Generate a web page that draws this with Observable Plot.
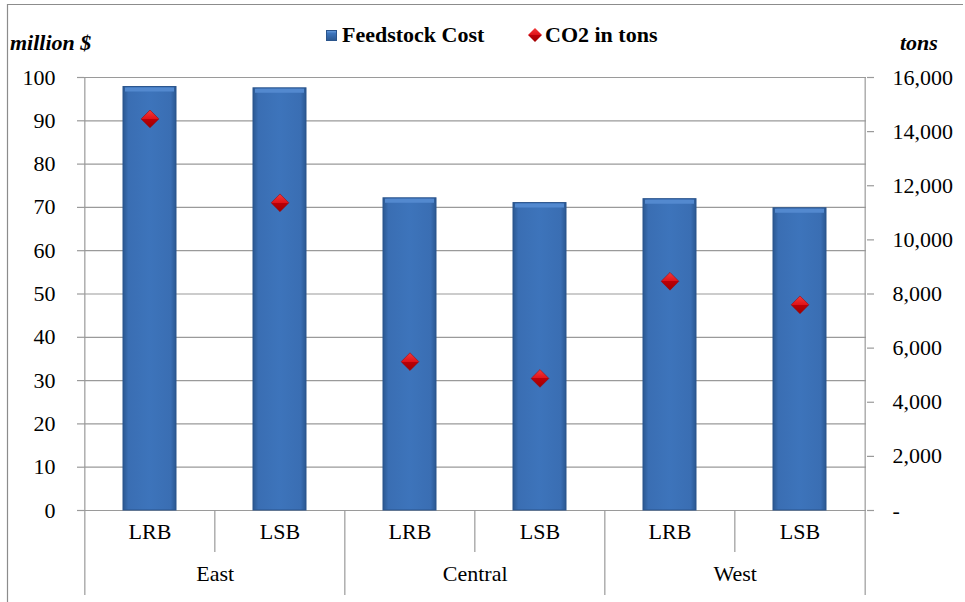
<!DOCTYPE html>
<html><head><meta charset="utf-8">
<script src="https://cdn.jsdelivr.net/npm/d3@7"></script>
<script src="https://cdn.jsdelivr.net/npm/@observablehq/plot@0.6"></script>
<style>
body{margin:0;background:#fff;}
#wrap{position:relative;width:965px;height:602px;overflow:hidden;font-family:"Liberation Serif","Times New Roman",Times,"DejaVu Serif",serif;}
#wrap svg.overlay{position:absolute;left:0;top:0;pointer-events:none;}
#wrap > svg{display:block;}
#wrap svg text{font-family:"Liberation Serif","Times New Roman",Times,"DejaVu Serif",serif;}
</style></head><body>
<svg width="0" height="0" style="position:absolute">
<defs>
<linearGradient id="barGrad" x1="0" x2="1" y1="0" y2="0">
 <stop offset="0" stop-color="#2b5891"/>
 <stop offset="0.1" stop-color="#3a6eb3"/>
 <stop offset="0.5" stop-color="#3d74bb"/>
 <stop offset="0.9" stop-color="#3a6eb3"/>
 <stop offset="1" stop-color="#2b5891"/>
</linearGradient>
<linearGradient id="redGrad" x1="0" x2="0" y1="0" y2="1">
 <stop offset="0" stop-color="#f23a3a"/>
 <stop offset="0.5" stop-color="#e01218"/>
 <stop offset="0.5" stop-color="#bb0008"/>
 <stop offset="1" stop-color="#a00000"/>
</linearGradient>
<linearGradient id="legGrad" x1="0" x2="0" y1="0" y2="1">
 <stop offset="0" stop-color="#6a9fe0"/>
 <stop offset="0.3" stop-color="#3d74bb"/>
 <stop offset="1" stop-color="#2b5891"/>
</linearGradient>
</defs></svg>
<div id="wrap"></div>
<script>
// ---- data ----
const regions = ["East", "East", "Central", "Central", "West", "West"];
const types = ["LRB", "LSB", "LRB", "LSB", "LRB", "LSB"];
const feedstockCost = [97.8, 97.5, 72.1, 71.0, 71.9, 69.8];      // million $
const co2Tons = [14470, 11370, 5500, 4880, 8470, 7600];          // tons
const leftTicks = [0, 10, 20, 30, 40, 50, 60, 70, 80, 90, 100];
const rightTicks = [0, 2000, 4000, 6000, 8000, 10000, 12000, 14000, 16000];
const regionNames = ["East", "Central", "West"];

const CO2_PER_UNIT = 16000 / 100; // secondary axis: 16,000 tons ↔ 100 million $

const keys = regions.map((r, i) => r + " " + types[i]);
const rows = keys.map((k, i) => ({key: k, region: regions[i], type: types[i], cost: feedstockCost[i], co2: co2Tons[i]}));
const groupFirst = regionNames.map(r => keys[regions.indexOf(r)]);
const groupLast = regionNames.map(r => keys[regions.lastIndexOf(r)]);

// ---- layout ----
const W = 965, H = 602, ML = 84, MR = 99, MT = 77, MB = 92;
const FH = H - MT - MB;
const step = (W - ML - MR) / keys.length;
const GRID = "#9a9a9a";
const FONT = '"Liberation Serif","Times New Roman",Times,"DejaVu Serif",serif';
const fmtRight = d => { const v = Math.round(d * CO2_PER_UNIT); return v === 0 ? "-" : d3.format(",")(v); };

const plot = Plot.plot({
  width: W, height: H,
  marginLeft: ML, marginRight: MR, marginTop: MT, marginBottom: MB,
  style: {fontFamily: FONT, fontSize: "22px", color: "#000", background: "transparent", overflow: "visible"},
  x: {domain: keys, paddingInner: 0.59, paddingOuter: 0.295, axis: null},
  y: {domain: [0, 100], axis: null},
  marks: [
    Plot.gridY(leftTicks, {stroke: GRID, strokeOpacity: 1, strokeWidth: 1.2}),
    Plot.barY(rows, {x: "key", y: "cost", fill: "url(#barGrad)", stroke: "#2a548c", strokeWidth: 1}),
    Plot.tickY(rows, {x: "key", y: "cost", stroke: "#5389cf", strokeWidth: 4, dy: 2.5, inset: 2}),
    Plot.dot(rows, {x: "key", y: d => d.co2 / CO2_PER_UNIT, symbol: "diamond2", r: 8, fill: "url(#redGrad)", stroke: "#9a0000", strokeWidth: 0.5}),
    Plot.axisY(leftTicks, {anchor: "left", tickSize: 7, tickPadding: 22, stroke: GRID, strokeWidth: 1.2, label: null, fontSize: 22}),
    Plot.axisY(rightTicks.map(v => v / CO2_PER_UNIT), {anchor: "right", tickSize: 7, tickPadding: 19, stroke: GRID, strokeWidth: 1.2, label: null, fontSize: 22, tickFormat: fmtRight}),
    // frame sides extended down through the category area
    Plot.ruleX([keys[0]], {x: d => d, dx: -step / 2, stroke: GRID, strokeWidth: 1.2, insetBottom: -85}),
    Plot.ruleX([keys[keys.length - 1]], {x: d => d, dx: step / 2, stroke: GRID, strokeWidth: 1.2, insetBottom: -85}),
    // region separators
    Plot.ruleX(groupFirst.slice(1), {x: d => d, dx: -step / 2, stroke: GRID, strokeWidth: 1.2, insetTop: FH, insetBottom: -85}),
    // type separators within regions
    Plot.ruleX(groupLast, {x: d => d, dx: -step / 2, stroke: GRID, strokeWidth: 1.2, insetTop: FH, insetBottom: -42}),
    Plot.text(rows, {x: "key", text: "type", frameAnchor: "bottom", dy: 28, fontSize: 22, fill: "#000"}),
    Plot.text(regionNames.map((r, i) => ({key: groupFirst[i], region: r})), {x: "key", text: "region", frameAnchor: "bottom", dx: step / 2, dy: 70, fontSize: 22, fill: "#000"})
  ]
});
const wrap = document.getElementById("wrap");
wrap.appendChild(plot);

// overlay: chart border, axis titles, legend
const ns = "http://www.w3.org/2000/svg";
const ov = document.createElementNS(ns, "svg");
ov.setAttribute("class", "overlay");
ov.setAttribute("width", W); ov.setAttribute("height", H);
ov.innerHTML = `
  <path d="M7.5,602 V4.5 H963" fill="none" stroke="#8c8c8c" stroke-width="1.2"/>
  <text x="10" y="50" font-size="22" font-weight="bold" font-style="italic">million $</text>
  <text x="900" y="50" font-size="22" font-weight="bold" font-style="italic">tons</text>
  <rect x="326.5" y="30.5" width="10" height="10" fill="url(#legGrad)" stroke="#2a548c" stroke-width="1"/>
  <text x="342" y="42" font-size="22" font-weight="bold">Feedstock Cost</text>
  <path d="M535,28 L542,35 L535,42 L528,35 Z" fill="url(#redGrad)"/>
  <text x="545" y="42" font-size="22" font-weight="bold">CO2 in tons</text>
`;
wrap.appendChild(ov);
</script>
</body></html>
